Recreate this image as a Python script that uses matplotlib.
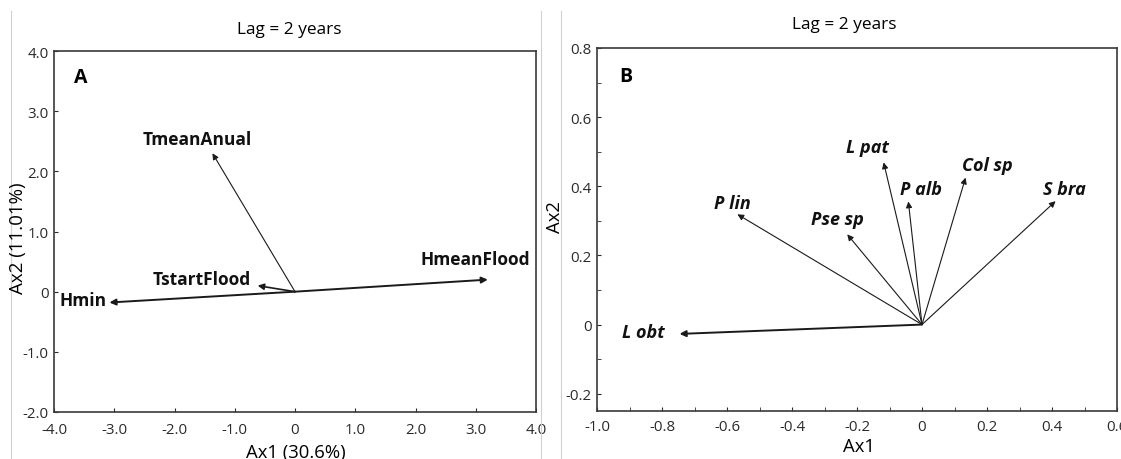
#!/usr/bin/env python3
"""Biplots of environmental variables (A) and species (B), lag = 2 years."""
import matplotlib
matplotlib.use('Agg')
import matplotlib.pyplot as plt
from matplotlib.lines import Line2D

plt.rcParams.update({
    'font.family': ['Open Sans', 'DejaVu Sans'],
    'axes.edgecolor': '#3a3a3a',
    'axes.linewidth': 1.2,
})

# Panel A: environmental vectors (Ax1, Ax2 scores)
env_names = ['TmeanAnual', 'TstartFlood', 'Hmin', 'HmeanFlood']
env_x = [-1.37, -0.62, -3.08, 3.20]
env_y = [2.30, 0.10, -0.18, 0.20]
env_label_x = [-1.63, -1.54, -3.51, 2.99]
env_label_y = [2.54, 0.21, -0.14, 0.54]

# Panel B: species vectors
sp_names = ['L obt', 'P lin', 'Pse sp', 'L pat', 'P alb', 'Col sp', 'S bra']
sp_x = [-0.746, -0.568, -0.230, -0.118, -0.042, 0.134, 0.411]
sp_y = [-0.027, 0.319, 0.261, 0.469, 0.356, 0.425, 0.357]
sp_label_x = [-0.857, -0.584, -0.260, -0.167, -0.002, 0.200, 0.439]
sp_label_y = [-0.021, 0.353, 0.306, 0.514, 0.393, 0.462, 0.391]

ticks_a_x = [-4.0, -3.0, -2.0, -1.0, 0.0, 1.0, 2.0, 3.0, 4.0]
ticks_a_y = [-2.0, -1.0, 0.0, 1.0, 2.0, 3.0, 4.0]
ticks_b_x = [-1.0, -0.8, -0.6, -0.4, -0.2, 0.0, 0.2, 0.4, 0.6]
ticks_b_y = [-0.2, 0.0, 0.2, 0.4, 0.6, 0.8]

W, H = 1121, 460


def px_axes(fig, left, top, right, bottom):
    return fig.add_axes([left / W, 1 - bottom / H, (right - left) / W, (bottom - top) / H])


def fmt(v):
    return '0' if abs(v) < 1e-9 else f'{v:.1f}'


def draw_vectors(ax, xs, ys, lw):
    for x, y, w in zip(xs, ys, lw):
        ax.annotate('', xy=(x, y), xytext=(0, 0),
                    arrowprops=dict(arrowstyle='-|>', color='#1a1a1a', lw=w,
                                    mutation_scale=9, shrinkA=0, shrinkB=0))


fig = plt.figure(figsize=(W / 100, H / 100), dpi=100)

# --- Panel A ---
ax = px_axes(fig, 54, 52, 536, 413)
ax.set_xlim(-4, 4)
ax.set_ylim(-2, 4)
draw_vectors(ax, env_x, env_y, [0.8, 1.2, 1.4, 1.4])
for name, lx, ly in zip(env_names, env_label_x, env_label_y):
    ax.text(lx, ly, name, ha='center', va='center', fontsize=12.5,
            fontweight='bold', color='#111111')
ax.text(-3.56, 3.56, 'A', ha='center', va='center', fontsize=14, fontweight='bold')
ax.set_xticks(ticks_a_x)
ax.set_yticks(ticks_a_y)
ax.set_xticklabels([fmt(v) for v in ticks_a_x])
ax.set_yticklabels([fmt(v) for v in ticks_a_y])
ax.tick_params(direction='in', length=3, labelsize=10.8, colors='#2a2a2a')
ax.tick_params(axis='x', pad=7)
ax.tick_params(axis='y', pad=4)
fig.text(289 / W, 1 - 30 / H, 'Lag = 2 years', ha='center', va='center', fontsize=12.4)
fig.text(18 / W, 1 - 238 / H, 'Ax2 (11.01%)', rotation=90, ha='center', va='center',
         fontsize=13.5)
fig.text(296 / W, 1 - 453 / H, 'Ax1 (30.6%)', ha='center', va='center', fontsize=13.3)

# --- Panel B ---
bx = px_axes(fig, 597, 49, 1117, 412)
bx.set_xlim(-1.0, 0.6)
bx.set_ylim(-0.25, 0.8)
draw_vectors(bx, sp_x, sp_y, [1.4] + [0.8] * 6)
for name, lx, ly in zip(sp_names, sp_label_x, sp_label_y):
    bx.text(lx, ly, name, ha='center', va='center', fontsize=13,
            fontweight='bold', fontstyle='italic', color='#111111')
bx.text(-0.91, 0.72, 'B', ha='center', va='center', fontsize=14, fontweight='bold')
bx.set_xticks(ticks_b_x)
bx.set_yticks(ticks_b_y)
bx.set_xticklabels([fmt(v) for v in ticks_b_x])
bx.set_yticklabels([fmt(v) for v in ticks_b_y])
bx.minorticks_on()
bx.set_xticks([v / 10 for v in range(-9, 6, 2)], minor=True)
bx.set_yticks([v / 10 for v in range(-1, 8, 2)], minor=True)
bx.tick_params(which='both', direction='in', length=3, labelsize=10.8,
               colors='#2a2a2a')
bx.tick_params(axis='x', which='both', pad=6)
bx.tick_params(axis='y', which='both', pad=4)
fig.text(844 / W, 1 - 25 / H, 'Lag = 2 years', ha='center', va='center', fontsize=12.4)
fig.text(555 / W, 1 - 217 / H, 'Ax2', rotation=90, ha='center', va='center', fontsize=13.3)
fig.text(859 / W, 1 - 447 / H, 'Ax1', ha='center', va='center', fontsize=13.3)

# page separators from the source layout
for x0, y0 in [(11, 12), (541, 12), (561, 12)]:
    fig.add_artist(Line2D([x0 / W, x0 / W], [1 - y0 / H, 0], color='#d0d0d0', lw=0.8))

fig.savefig('out.png', dpi=100)
